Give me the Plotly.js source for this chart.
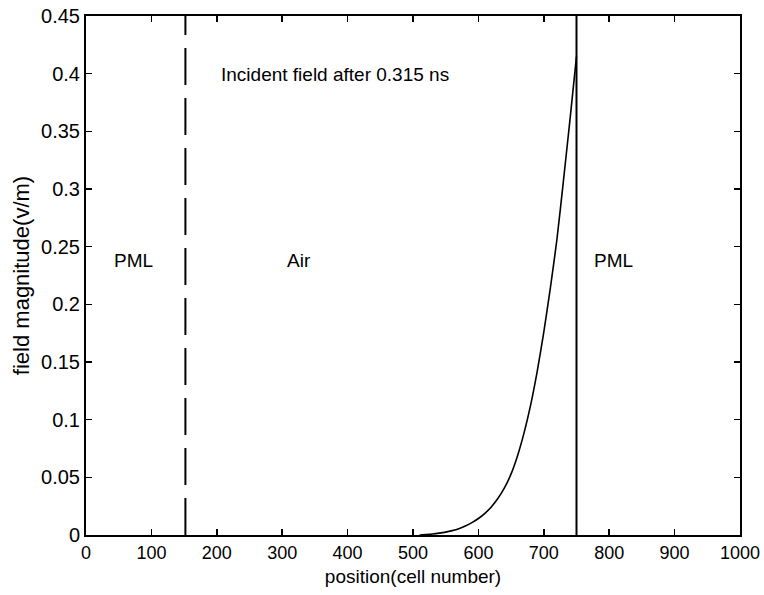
<!DOCTYPE html>
<html>
<head>
<meta charset="utf-8">
<script src="https://cdn.plot.ly/plotly-3.0.1.min.js"></script>
<style>html,body{margin:0;padding:0;background:#fff;}#chart{width:764px;height:595px;}</style>
</head>
<body>
<div id="chart"></div>
<script>
// Incident field curve (position in cells, magnitude in V/m)
const positions = [510, 520, 530, 540, 550, 560, 570, 580, 590, 600, 610, 620, 630, 640, 650, 660, 670, 680, 690, 700, 710, 720, 730, 740, 750];
const magnitudes = [0, 0.0004, 0.0009, 0.0016, 0.0025, 0.0038, 0.0055, 0.0078, 0.0107, 0.0143, 0.0188, 0.0245, 0.0318, 0.041, 0.053, 0.069, 0.089, 0.113, 0.142, 0.176, 0.214, 0.256, 0.307, 0.360, 0.415];

// Region boundaries
const leftBoundaryX = [152, 152];
const rightBoundaryX = [750, 750];
const boundaryY = [0, 0.45];

// Tick labels
const xTicks = [0, 100, 200, 300, 400, 500, 600, 700, 800, 900, 1000];
const yTicks = [0, 0.05, 0.1, 0.15, 0.2, 0.25, 0.3, 0.35, 0.4, 0.45];
const yTickText = ["0", "0.05", "0.1", "0.15", "0.2", "0.25", "0.3", "0.35", "0.4", "0.45"];

// Region labels
const labelTexts = ["PML", "Air", "PML", "Incident field after 0.315 ns"];
const labelX = [40, 305, 773, 203];
const labelY = [0.238, 0.238, 0.238, 0.399];

const fam = "Liberation Sans, Arial, sans-serif";
const font = {family: fam, size: 19, color: "#000"};

const traces = [
  {x: positions, y: magnitudes, mode: "lines", line: {color: "#000", width: 1.6, shape: "spline", smoothing: 0.6}, hoverinfo: "skip"},
  {x: leftBoundaryX, y: boundaryY, mode: "lines", line: {color: "#000", width: 2, dash: "37px,13px"}, hoverinfo: "skip"},
  {x: rightBoundaryX, y: boundaryY, mode: "lines", line: {color: "#000", width: 2}, hoverinfo: "skip"}
];

const annotations = labelTexts.map((t, i) => ({
  x: labelX[i], y: labelY[i], xref: "x", yref: "y", text: t, showarrow: false,
  xanchor: "left", yanchor: "middle", font: font
}));

const axisCommon = {
  showline: true, linecolor: "#000", linewidth: 2, mirror: "ticks",
  ticks: "inside", ticklen: 6, tickwidth: 1.5, tickcolor: "#000",
  showgrid: false, zeroline: false
};

const layout = {
  width: 764, height: 595,
  margin: {l: 86, r: 24, t: 16, b: 60},
  paper_bgcolor: "#fff", plot_bgcolor: "#fff",
  showlegend: false,
  font: font,
  xaxis: Object.assign({}, axisCommon, {
    range: [0, 1000], tickvals: xTicks, ticktext: xTicks.map(String),
    tickfont: {family: fam, size: 18, color: "#000"},
    title: {text: "position(cell number)", font: font, standoff: 8}
  }),
  yaxis: Object.assign({}, axisCommon, {
    range: [0, 0.45], tickvals: yTicks, ticktext: yTickText,
    tickfont: {family: fam, size: 20, color: "#000"},
    title: {text: "field magnitude(v/m)", font: {family: fam, size: 22, color: "#000"}, standoff: 5}
  }),
  annotations: annotations
};

Plotly.newPlot("chart", traces, layout, {displayModeBar: false, staticPlot: true});
</script>
</body>
</html>
